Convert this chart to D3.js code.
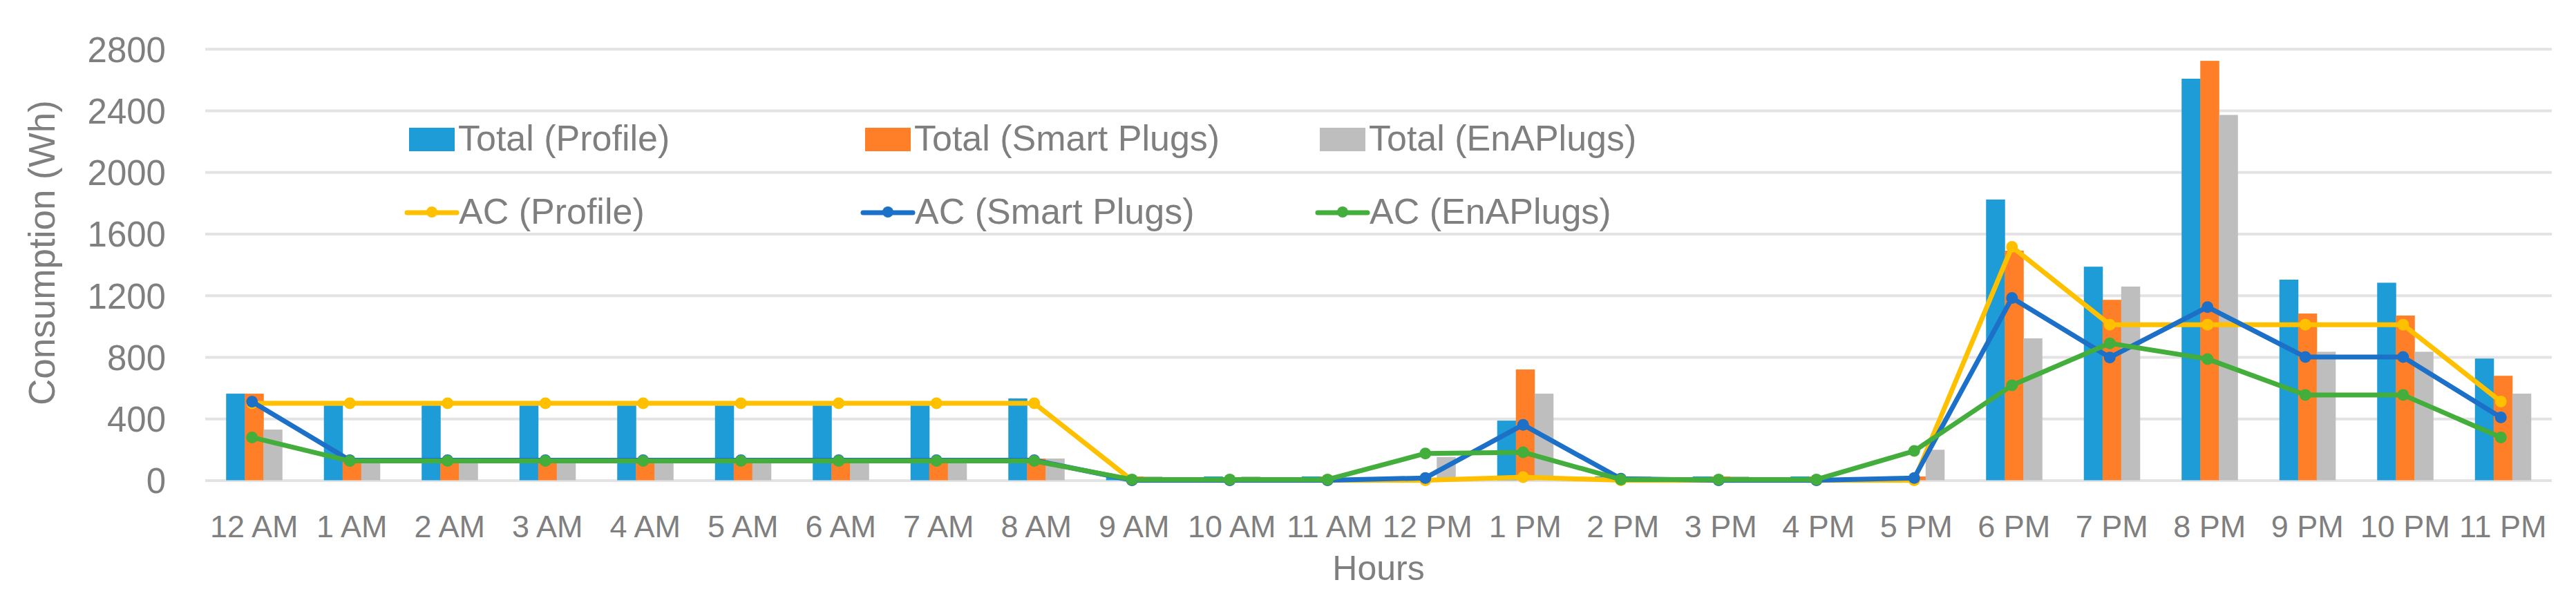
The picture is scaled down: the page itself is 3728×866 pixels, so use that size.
<!DOCTYPE html>
<html>
<head>
<meta charset="utf-8">
<script src="https://cdn.jsdelivr.net/npm/d3@7"></script>
<style>
  html, body { margin: 0; padding: 0; background: #fff; }
  svg text { font-family: "Liberation Sans", Arial, sans-serif; fill: #7f7f7f; }
</style>
</head>
<body>
<svg id="chart" width="3728" height="866"></svg>
<script>
const categories = ["12 AM","1 AM","2 AM","3 AM","4 AM","5 AM","6 AM","7 AM","8 AM","9 AM","10 AM","11 AM",
  "12 PM","1 PM","2 PM","3 PM","4 PM","5 PM","6 PM","7 PM","8 PM","9 PM","10 PM","11 PM"];

const totalProfile = [562,485,485,485,485,485,485,485,531,20,25,25,25,387,25,25,25,25,1822,1386,2606,1302,1282,790];
const totalSmart   = [562,141,141,141,141,141,141,141,141,25,20,25,10,719,25,25,25,25,1490,1171,2722,1082,1069,678];
const totalEnA     = [329,141,141,141,141,141,141,141,141,25,25,15,151,562,25,25,15,198,921,1257,2371,834,834,562];

const acProfile = [500,500,500,500,500,500,500,500,500,0,0,0,0,20,0,0,0,0,1515,1010,1010,1010,1010,511];
const acSmart   = [510,130,130,130,130,130,130,130,130,0,0,0,15,360,10,0,0,15,1183,797,1124,800,800,408];
const acEnA     = [278,125,125,125,125,125,125,125,125,5,5,5,174,182,5,5,5,190,616,889,787,554,554,278];

const yTicks = [0,400,800,1200,1600,2000,2400,2800];

const barSeries = [
  {name: "Total (Profile)", values: totalProfile, color: "#1e9cd7"},
  {name: "Total (Smart Plugs)", values: totalSmart, color: "#fe7f27"},
  {name: "Total (EnAPlugs)", values: totalEnA, color: "#bebebe"}
];
const lineSeries = [
  {name: "AC (Profile)", values: acProfile, color: "#ffc000"},
  {name: "AC (Smart Plugs)", values: acSmart, color: "#1c70c8"},
  {name: "AC (EnAPlugs)", values: acEnA, color: "#43ae3b"}
];

const svg = d3.select("#chart");
const plotLeft = 297, plotRight = 3693, plotTop = 70.7, plotBottom = 695.5;

const x0 = d3.scaleBand().domain(categories).range([plotLeft, plotRight]).padding(0);
const x1 = d3.scaleBand().domain(barSeries.map(d => d.name)).range([0, x0.bandwidth()])
  .paddingInner(0).paddingOuter(1.12);
const y = d3.scaleLinear().domain([0, 2800]).range([plotBottom, plotTop]);

// gridlines + y labels
const yAxis = d3.axisLeft(y).tickValues(yTicks).tickSize(-(plotRight - plotLeft)).tickFormat(d3.format("d")).tickPadding(57);
const gy = svg.append("g").attr("transform", `translate(${plotLeft},0)`).call(yAxis);
gy.select(".domain").remove();
gy.selectAll(".tick line").attr("stroke", "#e3e3e3").attr("stroke-width", 4);
gy.selectAll(".tick text").attr("font-size", 51).attr("dy", "0.36em").attr("fill", "#7f7f7f")
  .style("font-family", '"Liberation Sans", Arial, sans-serif');

// bars
const groups = svg.append("g").selectAll("g").data(categories).join("g")
  .attr("transform", d => `translate(${x0(d)},0)`);
groups.selectAll("rect").data((c, i) => barSeries.map(s => ({s, v: s.values[i]}))).join("rect")
  .attr("x", d => x1(d.s.name))
  .attr("width", x1.bandwidth() + 0.5)
  .attr("y", d => y(d.v))
  .attr("height", d => y(0) - y(d.v))
  .attr("fill", d => d.s.color);

// lines
const cx = c => x0(c) + x0.bandwidth() / 2 - 3;
const line = d3.line().x((d, i) => cx(categories[i])).y(d => y(d));
lineSeries.forEach(s => {
  svg.append("path").datum(s.values).attr("d", line)
    .attr("fill", "none").attr("stroke", s.color).attr("stroke-width", 7).attr("stroke-linejoin", "round");
  svg.append("g").selectAll("circle").data(s.values).join("circle")
    .attr("cx", (d, i) => cx(categories[i])).attr("cy", d => y(d)).attr("r", 8.5).attr("fill", s.color);
});

// x axis labels
const xAxis = d3.axisBottom(x0).tickSize(0).tickPadding(0);
const gx = svg.append("g").attr("transform", `translate(0,${plotBottom})`).call(xAxis);
gx.select(".domain").remove();
gx.selectAll(".tick text").attr("font-size", 45).attr("dy", 0).attr("y", 82.5).attr("fill", "#7f7f7f")
  .style("font-family", '"Liberation Sans", Arial, sans-serif');

// axis titles
svg.append("text").attr("x", (plotLeft + plotRight) / 2).attr("y", 840).attr("text-anchor", "middle")
  .attr("font-size", 50).text("Hours");
svg.append("text").attr("transform", "translate(79,366) rotate(-90)").attr("text-anchor", "middle")
  .attr("font-size", 53).text("Consumption (Wh)");

// legend
const legX = [592, 1252, 1910];
const leg = svg.append("g");
barSeries.forEach((s, i) => {
  leg.append("rect").attr("x", legX[i]).attr("y", 185).attr("width", 66).attr("height", 34).attr("fill", s.color);
  leg.append("text").attr("x", legX[i] + 71).attr("y", 218).attr("font-size", 52).text(s.name);
});
lineSeries.forEach((s, i) => {
  const lx = legX[i] - 3;
  leg.append("line").attr("x1", lx).attr("x2", lx + 72).attr("y1", 308).attr("y2", 308)
    .attr("stroke", s.color).attr("stroke-width", 7).attr("stroke-linecap", "round");
  leg.append("circle").attr("cx", lx + 36).attr("cy", 307).attr("r", 8).attr("fill", s.color);
  leg.append("text").attr("x", legX[i] + 72).attr("y", 324).attr("font-size", 52).text(s.name);
});
</script>
</body>
</html>
